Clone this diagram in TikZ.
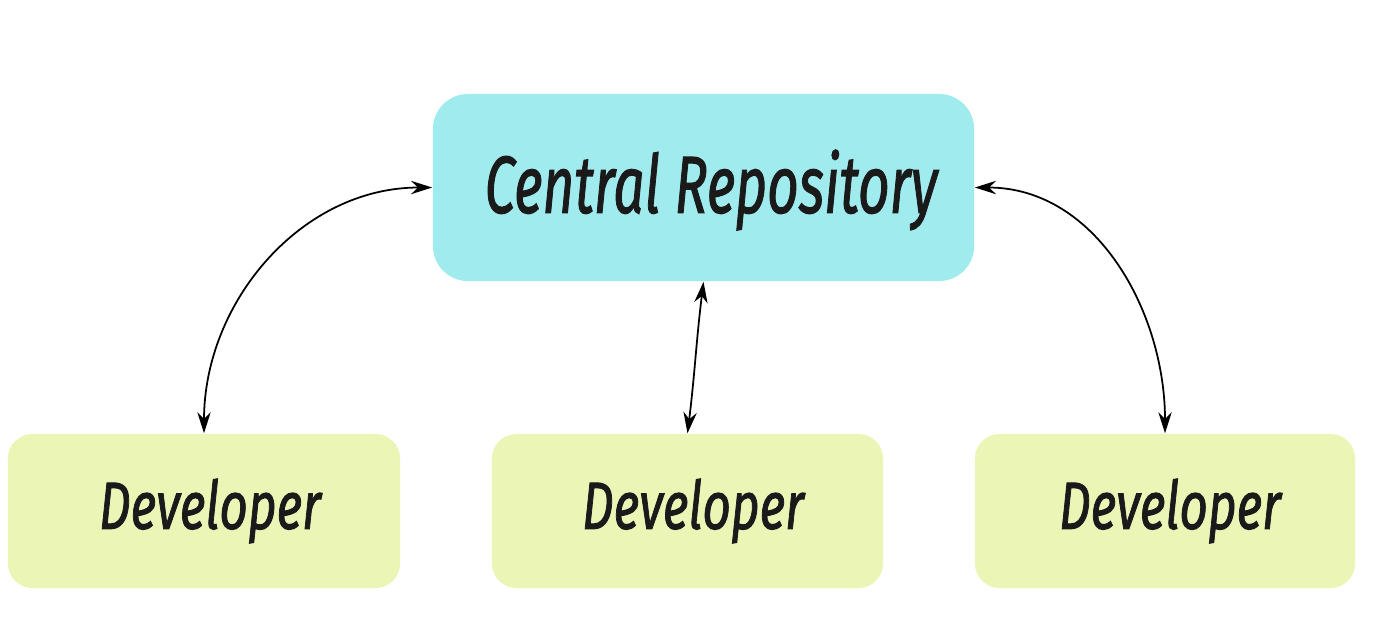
\documentclass[tikz,border=0pt]{standalone}
\usepackage{fontspec}
\setmainfont{Fira Sans}
\newfontfamily\handfont[FakeBold=1.5,ItalicFeatures={FakeBold=1.5}]{Fira Sans}
\usetikzlibrary{arrows.meta}
\definecolor{repoC}{HTML}{A0EBEE}
\definecolor{devC}{HTML}{EAF5B6}
\definecolor{inkC}{HTML}{1A1A1A}
\tikzset{
  repobox/.style={fill=repoC, draw=none, rounded corners=10pt, minimum width=5.41cm, minimum height=1.87cm, inner sep=0pt},
  devbox/.style={fill=devC, draw=none, rounded corners=7pt, minimum height=1.54cm, inner sep=0pt},
  link/.style={draw=black, line width=0.5pt, {Stealth[length=6pt,width=3.8pt]}-{Stealth[length=6pt,width=3.8pt]}},
  bigtxt/.style={text=inkC, font=\fontsize{23}{27}\selectfont\handfont\itshape},
  devtxt/.style={text=inkC, font=\fontsize{19}{23}\selectfont\handfont\itshape}
}
\begin{document}
\begin{tikzpicture}[x=0.01cm,y=-0.01cm]
\useasboundingbox (0,0) rectangle (1374,635);
\node[repobox] (repo) at (703.5,187.5) {};
\node[bigtxt] (repot) at (711,190) {\scalebox{0.68}[1]{Central Repository}};
\node[devbox, minimum width=3.92cm] (d1) at (204,511) {};
\node[devbox, minimum width=3.91cm] (d2) at (687.5,511) {};
\node[devbox, minimum width=3.80cm] (d3) at (1165,511) {};
\node[devtxt] (t1) at (210,511) {\scalebox{0.74}[1]{Developer}};
\node[devtxt] (t2) at (693,511) {\scalebox{0.74}[1]{Developer}};
\node[devtxt] (t3) at (1170,511) {\scalebox{0.74}[1]{Developer}};
\draw[link] (repo.west) to[out=180,in=90] (d1.north);
\draw[link] (repo.south) to[out=-97,in=83] (d2.north);
\draw[link] (repo.east) to[out=0,in=90] (d3.north);
\end{tikzpicture}
\end{document}
